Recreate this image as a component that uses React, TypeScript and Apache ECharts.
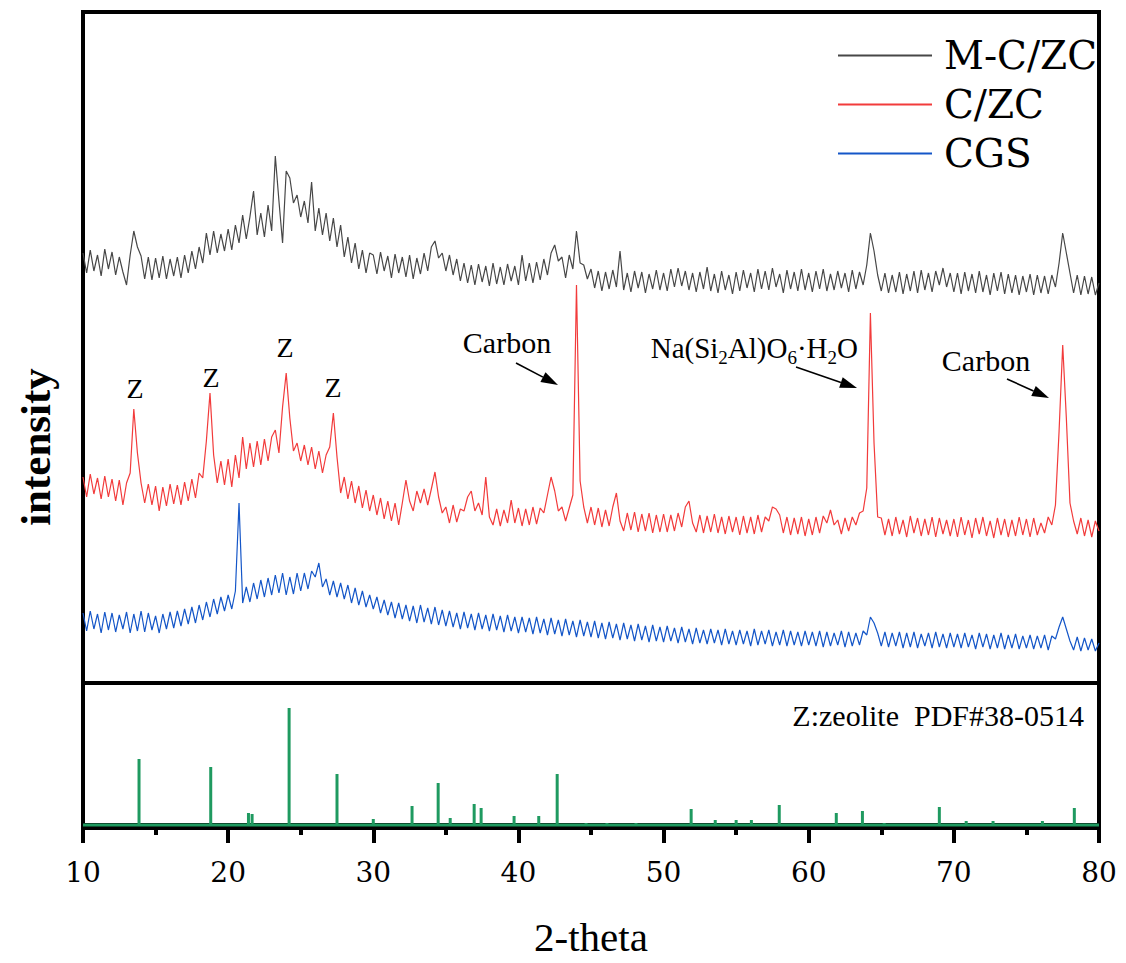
import React, { useEffect, useRef } from "react";
import * as echarts from "echarts";

// 2-theta sampling of the measured patterns: 10° to 80°, every 0.25°
const THETA_START = 10;
const THETA_STEP = 0.25;

// M-C/ZC (offset pattern, arbitrary units)
const mczc = [
  430, 410, 433, 412, 428, 407, 434, 414, 431, 408, 426, 411, 398, 428, 452, 436, 427, 404, 426, 403,
  425, 405, 427, 404, 424, 407, 426, 405, 428, 410, 432, 414, 436, 420, 450, 428, 452, 430, 449, 432,
  454, 433, 458, 440, 468, 444, 466, 492, 448, 470, 446, 478, 452, 527, 482, 440, 512, 505, 480, 488,
  466, 482, 460, 501, 452, 475, 448, 470, 442, 465, 436, 458, 426, 446, 420, 440, 414, 433, 410, 430,
  428, 409, 431, 412, 427, 405, 429, 410, 426, 406, 428, 404, 425, 409, 430, 412, 436, 442, 425, 430,
  412, 428, 408, 424, 402, 420, 400, 418, 398, 419, 401, 417, 397, 420, 399, 416, 398, 419, 402, 417,
  398, 428, 402, 420, 400, 421, 403, 424, 408, 430, 438, 422, 426, 405, 428, 414, 452, 420, 418, 404,
  414, 395, 412, 392, 411, 394, 413, 396, 432, 393, 410, 391, 412, 395, 411, 390, 409, 394, 413, 393,
  410, 392, 414, 396, 415, 397, 412, 393, 410, 391, 411, 394, 416, 392, 409, 390, 412, 393, 408, 389,
  411, 392, 413, 395, 410, 391, 414, 394, 412, 393, 415, 396, 409, 390, 413, 394, 411, 392, 414, 393,
  410, 391, 412, 394, 414, 392, 409, 393, 412, 395, 410, 391, 413, 394, 411, 398, 418, 450, 432, 408,
  392, 410, 390, 408, 391, 411, 389, 409, 392, 412, 390, 413, 393, 410, 391, 412, 398, 415, 396, 410,
  391, 410, 389, 411, 392, 409, 390, 412, 391, 408, 388, 410, 392, 411, 389, 409, 390, 408, 388, 407,
  391, 409, 388, 408, 390, 407, 389, 408, 396, 420, 450, 430, 410, 390, 408, 388, 407, 389, 406, 388,
  400,
];

// C/ZC
const czc = [
  206, 186, 209, 189, 205, 184, 207, 186, 204, 182, 203, 178, 200, 210, 274, 230, 200, 180, 199, 178,
  197, 172, 196, 177, 199, 179, 198, 178, 201, 182, 204, 185, 210, 205, 242, 290, 228, 200, 222, 198,
  224, 196, 228, 205, 246, 214, 240, 216, 242, 218, 244, 222, 246, 253, 230, 276, 310, 265, 232, 240,
  222, 238, 218, 236, 214, 232, 210, 228, 236, 270, 226, 190, 206, 184, 202, 180, 197, 175, 193, 172,
  188, 168, 185, 164, 182, 162, 180, 158, 180, 203, 182, 172, 192, 180, 194, 178, 194, 211, 186, 170,
  176, 160, 178, 161, 174, 172, 186, 192, 172, 180, 168, 206, 166, 158, 174, 157, 173, 160, 183, 160,
  175, 157, 174, 158, 176, 159, 175, 170, 188, 206, 192, 172, 176, 162, 175, 188, 398, 202, 176, 160,
  176, 158, 175, 156, 173, 157, 176, 190, 162, 152, 170, 153, 171, 151, 169, 152, 170, 150, 168, 151,
  169, 151, 168, 152, 170, 156, 176, 182, 160, 151, 168, 150, 167, 151, 169, 150, 166, 149, 167, 151,
  166, 148, 167, 150, 166, 149, 168, 151, 166, 162, 176, 174, 168, 150, 166, 148, 165, 149, 166, 147,
  164, 148, 166, 150, 167, 160, 173, 158, 163, 149, 165, 152, 166, 158, 170, 172, 195, 370, 240, 166,
  165, 148, 164, 147, 166, 149, 163, 146, 167, 150, 165, 147, 164, 148, 166, 146, 165, 149, 163, 147,
  164, 146, 166, 148, 163, 145, 165, 149, 166, 147, 162, 145, 165, 148, 164, 146, 163, 147, 166, 148,
  164, 146, 165, 148, 160, 150, 166, 158, 178, 252, 338, 265, 180, 162, 149, 165, 147, 163, 146, 162,
  152,
];

// CGS
const cgs = [
  70, 52, 72, 54, 69, 50, 71, 53, 70, 51, 68, 54, 71, 50, 69, 52, 72, 51, 70, 53,
  67, 50, 69, 54, 71, 55, 72, 57, 74, 59, 76, 60, 78, 63, 81, 66, 84, 69, 86, 72,
  88, 74, 92, 180, 80, 96, 81, 100, 84, 103, 86, 105, 88, 108, 90, 110, 88, 106, 89, 110,
  92, 110, 94, 112, 106, 120, 96, 104, 88, 102, 86, 100, 84, 98, 80, 95, 78, 92, 76, 88,
  74, 86, 70, 83, 68, 81, 65, 80, 64, 78, 62, 77, 60, 78, 61, 75, 59, 76, 58, 73,
  57, 72, 56, 70, 54, 71, 55, 69, 53, 70, 54, 68, 52, 69, 53, 67, 51, 68, 52, 66,
  50, 66, 51, 65, 49, 66, 50, 64, 48, 65, 49, 63, 47, 64, 48, 62, 46, 63, 47, 61,
  46, 62, 45, 60, 44, 61, 45, 59, 43, 60, 44, 58, 42, 59, 43, 57, 41, 58, 42, 56,
  41, 57, 42, 55, 40, 56, 41, 54, 39, 55, 40, 53, 39, 54, 40, 53, 38, 54, 39, 52,
  38, 53, 39, 52, 37, 54, 38, 52, 39, 53, 37, 51, 38, 53, 37, 52, 38, 51, 37, 52,
  38, 51, 37, 52, 36, 51, 37, 50, 38, 52, 36, 51, 37, 50, 38, 52, 48, 66, 60, 50,
  37, 51, 36, 50, 37, 51, 35, 50, 36, 51, 35, 49, 37, 50, 35, 51, 36, 49, 35, 50,
  36, 49, 35, 50, 36, 48, 34, 50, 36, 49, 34, 48, 35, 50, 34, 48, 35, 49, 34, 47,
  35, 48, 34, 47, 35, 48, 33, 47, 44, 56, 66, 54, 42, 33, 46, 32, 45, 33, 44, 32,
  40,
];

// Zeolite reference pattern PDF#38-0514 (stick positions and relative heights)
const zeoliteTheta = [
  13.86, 18.8, 21.4, 21.65, 24.2, 27.5, 30.0, 32.67, 34.47, 35.3, 36.95, 37.43, 39.7, 41.4, 42.67,
  44.66, 46.1, 48.1, 51.9, 53.56, 55.0, 56.05, 57.97, 61.9, 63.7, 65.2, 69.0, 70.85, 72.7, 76.1, 78.3,
];
const zeoliteIntensity = [
  66, 58, 12, 11, 117, 51, 6, 19, 42, 7, 21, 17, 9, 9, 51,
  2, 2, 2, 16, 5, 5, 5, 20, 12, 14, 2, 18, 4, 4, 4, 17,
];

const seriesNames = ["M-C/ZC", "C/ZC", "CGS"];
const seriesColors = ["#474747", "#f23b3b", "#1456c8"];
const stickColor = "#1f9a60";

const X_MIN = 10;
const X_MAX = 80;
const X_INTERVAL = 10;

const FONT = "Liberation Serif";
const FONT_ALT = "DejaVu Serif";

function toPairs(values: number[]) {
  return values.map((v, i) => [THETA_START + i * THETA_STEP, v]);
}

function arrow(x1: number, y1: number, x2: number, y2: number) {
  const dx = x2 - x1;
  const dy = y2 - y1;
  const len = Math.sqrt(dx * dx + dy * dy);
  const ux = dx / len;
  const uy = dy / len;
  const head = 17;
  const half = 5.5;
  const bx = x2 - ux * head;
  const by = y2 - uy * head;
  const px = -uy * half;
  const py = ux * half;
  return [
    {
      type: "line",
      shape: { x1, y1, x2: bx, y2: by },
      style: { stroke: "#000", lineWidth: 1.6 },
    },
    {
      type: "polygon",
      shape: {
        points: [
          [x2, y2],
          [bx + px, by + py],
          [bx - px, by - py],
        ],
      },
      style: { fill: "#000" },
    },
  ];
}

function label(text: string, x: number, y: number, fontSize: number, align = "center") {
  return {
    type: "text",
    x,
    y,
    style: {
      text,
      fontSize,
      fontFamily: FONT,
      fill: "#000",
      align,
      verticalAlign: "middle",
    },
  };
}

export default function App() {
  const ref = useRef<HTMLDivElement>(null);

  useEffect(() => {
    if (!ref.current) return;
    const chart = echarts.init(ref.current, null, { renderer: "svg" });

    const lineSeries = [mczc, czc, cgs].map((vals, i) => ({
      name: seriesNames[i],
      type: "line",
      xAxisIndex: 0,
      yAxisIndex: 0,
      data: toPairs(vals),
      symbol: "none",
      showSymbol: false,
      lineStyle: { color: seriesColors[i], width: 1.2 },
      itemStyle: { color: seriesColors[i] },
      silent: true,
    }));

    const option: any = {
      animation: false,
      backgroundColor: "#ffffff",
      textStyle: { fontFamily: FONT, color: "#000" },
      grid: [
        {
          left: 83,
          right: 27,
          top: 12,
          height: 671,
          show: true,
          borderColor: "#000",
          borderWidth: 4,
          backgroundColor: "transparent",
        },
        {
          left: 83,
          right: 27,
          top: 683,
          height: 145,
          show: true,
          borderColor: "#000",
          borderWidth: 4,
          backgroundColor: "transparent",
        },
      ],
      xAxis: [
        {
          type: "value",
          gridIndex: 0,
          min: X_MIN,
          max: X_MAX,
          interval: X_INTERVAL,
          show: false,
        },
        {
          type: "value",
          gridIndex: 1,
          min: X_MIN,
          max: X_MAX,
          interval: X_INTERVAL,
          name: "2-theta",
          nameLocation: "middle",
          nameGap: 88,
          nameTextStyle: { fontSize: 41, fontFamily: FONT, color: "#000" },
          axisLine: { show: true, lineStyle: { color: "#000", width: 4 } },
          axisTick: { show: true, inside: false, length: 18, lineStyle: { color: "#000", width: 4 } },
          minorTick: { show: true, splitNumber: 2, length: 10, lineStyle: { color: "#000", width: 4 } },
          splitLine: { show: false },
          minorSplitLine: { show: false },
          axisLabel: {
            show: true,
            margin: 30,
            fontSize: 28,
            fontFamily: FONT_ALT,
            color: "#000",
          },
        },
      ],
      yAxis: [
        { type: "value", gridIndex: 0, min: 0, max: 671, show: false },
        { type: "value", gridIndex: 1, min: -3, max: 142, show: false },
      ],
      legend: {
        data: seriesNames,
        orient: "vertical",
        left: 833,
        top: 31,
        itemWidth: 94,
        itemHeight: 2,
        itemGap: 10,
        icon: "rect",
        textStyle: {
          fontSize: 39,
          fontFamily: FONT_ALT,
          color: "#000",
          padding: [0, 0, 0, 7],
        },
        selectedMode: false,
      },
      series: [
        ...lineSeries,
        {
          name: "zeolite-baseline",
          type: "line",
          xAxisIndex: 1,
          yAxisIndex: 1,
          data: [
            [X_MIN, 0],
            [X_MAX, 0],
          ],
          symbol: "none",
          lineStyle: { color: stickColor, width: 3 },
          silent: true,
        },
        {
          name: "PDF#38-0514",
          type: "bar",
          xAxisIndex: 1,
          yAxisIndex: 1,
          data: zeoliteTheta.map((t, i) => [t, zeoliteIntensity[i]]),
          barWidth: 3,
          itemStyle: { color: stickColor },
          silent: true,
        },
      ],
      graphic: [
        label("Z", 135, 388, 28),
        label("Z", 211, 377, 28),
        label("Z", 285, 347, 28),
        label("Z", 333, 387, 28),
        label("Carbon", 507, 342, 30),
        label("Carbon", 986, 360, 30),
        {
          type: "text",
          x: 858,
          y: 348,
          style: {
            text: "Na(Si{s|2}Al)O{s|6}·H{s|2}O",
            fontSize: 29,
            fontFamily: FONT,
            fill: "#000",
            align: "right",
            verticalAlign: "middle",
            rich: {
              s: { fontSize: 19, fontFamily: FONT, fill: "#000", padding: [18, 0, 0, 0] },
            },
          },
        },
        ...arrow(516, 363, 558, 385),
        ...arrow(796, 367, 857, 388),
        ...arrow(1007, 379, 1049, 398),
        label("Z:zeolite  PDF#38-0514", 1084, 715, 30, "right"),
        {
          type: "text",
          x: 35,
          y: 447,
          rotation: Math.PI / 2,
          style: {
            text: "intensity",
            fontSize: 43,
            fontWeight: "bold",
            fontFamily: FONT,
            fill: "#000",
            align: "center",
            verticalAlign: "middle",
          },
        },
      ],
    };

    chart.setOption(option);
    return () => {
      chart.dispose();
    };
  }, []);

  return (
    <div
      ref={ref}
      style={{ position: "absolute", left: 0, top: 0, width: 1126, height: 963, background: "#fff" }}
    />
  );
}
